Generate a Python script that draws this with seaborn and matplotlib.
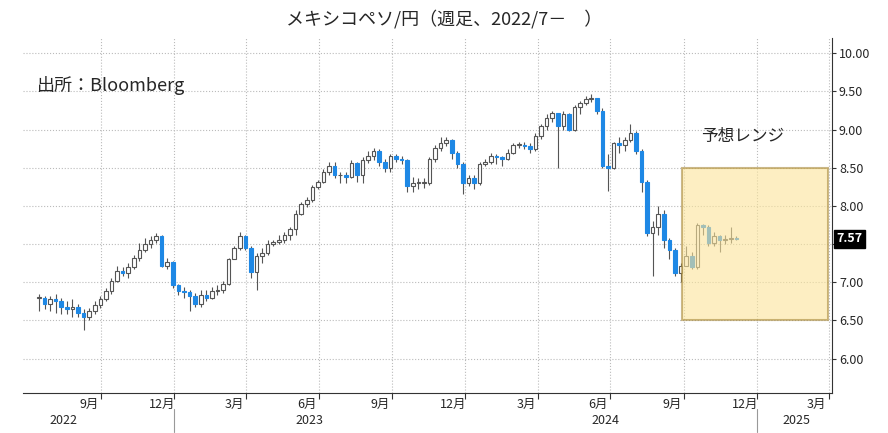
import numpy as np
import pandas as pd
import matplotlib
matplotlib.use("Agg")
import matplotlib.pyplot as plt
import matplotlib.dates as mdates
import seaborn as sns

sns.set_style("whitegrid")
plt.rcParams['font.family'] = ['Noto Sans CJK JP', 'DejaVu Sans']

# weekly MXN/JPY
closes = [6.80, 6.72, 6.78, 6.75, 6.68, 6.65, 6.68, 6.60, 6.55, 6.62,
          6.70, 6.78, 6.88, 7.02, 7.15, 7.12, 7.20, 7.32, 7.42, 7.50,
          7.56, 7.60, 7.22, 7.26, 6.96, 6.88, 6.87, 6.82, 6.72, 6.84,
          6.80, 6.88, 6.90, 6.98, 7.30, 7.45, 7.60, 7.45, 7.13, 7.35,
          7.38, 7.50, 7.53, 7.56, 7.62, 7.70, 7.90, 8.02, 8.08, 8.25,
          8.32, 8.45, 8.52, 8.40, 8.40, 8.38, 8.56, 8.40, 8.60, 8.66,
          8.72, 8.58, 8.50, 8.65, 8.62, 8.60, 8.26, 8.30, 8.30, 8.30,
          8.62, 8.76, 8.82, 8.86, 8.70, 8.55, 8.30, 8.36, 8.30, 8.55,
          8.58, 8.66, 8.64, 8.62, 8.70, 8.80, 8.80, 8.78, 8.75, 8.92,
          9.05, 9.15, 9.22, 9.05, 9.20, 9.00, 9.30, 9.35, 9.40, 9.42,
          9.25, 8.52, 8.50, 8.82, 8.80, 8.86, 8.95, 8.72, 8.32, 7.65,
          7.72, 7.90, 7.55, 7.42, 7.12, 7.22, 7.35, 7.20, 7.75, 7.72,
          7.52, 7.60, 7.55, 7.57, 7.58, 7.57]
highs = [6.85, 6.82, 6.82, 6.85, 6.80, 6.75, 6.78, 6.72, 6.65, 6.66,
         6.75, 6.82, 6.92, 7.06, 7.22, 7.20, 7.25, 7.36, 7.52, 7.58,
         7.60, 7.64, 7.62, 7.32, 7.28, 6.98, 6.94, 6.90, 6.86, 6.90,
         6.90, 6.94, 6.96, 7.02, 7.32, 7.48, 7.66, 7.62, 7.47, 7.38,
         7.45, 7.55, 7.56, 7.62, 7.66, 7.72, 7.95, 8.05, 8.12, 8.28,
         8.34, 8.48, 8.58, 8.58, 8.44, 8.45, 8.60, 8.58, 8.64, 8.72,
         8.76, 8.74, 8.62, 8.68, 8.68, 8.66, 8.62, 8.38, 8.36, 8.36,
         8.64, 8.80, 8.90, 8.90, 8.88, 8.72, 8.58, 8.40, 8.40, 8.58,
         8.62, 8.70, 8.68, 8.66, 8.74, 8.82, 8.84, 8.84, 8.82, 8.96,
         9.08, 9.20, 9.25, 9.22, 9.24, 9.22, 9.32, 9.38, 9.44, 9.46,
         9.42, 9.28, 8.68, 8.84, 8.90, 8.90, 9.08, 8.98, 8.74, 8.34,
         7.80, 8.00, 7.95, 7.58, 7.45, 7.25, 7.48, 7.40, 7.78, 7.76,
         7.75, 7.66, 7.62, 7.62, 7.72, 7.60]
lows = [6.62, 6.65, 6.62, 6.60, 6.58, 6.58, 6.55, 6.55, 6.38, 6.50,
        6.58, 6.66, 6.76, 6.85, 7.00, 7.08, 7.05, 7.18, 7.28, 7.40,
        7.45, 7.52, 7.20, 7.18, 6.92, 6.84, 6.80, 6.62, 6.68, 6.68,
        6.76, 6.78, 6.84, 6.86, 6.96, 7.30, 7.42, 7.42, 7.05, 6.90,
        7.25, 7.36, 7.48, 7.50, 7.52, 7.56, 7.62, 7.88, 7.98, 8.05,
        8.22, 8.30, 8.40, 8.36, 8.30, 8.30, 8.36, 8.32, 8.30, 8.56,
        8.60, 8.52, 8.44, 8.45, 8.58, 8.55, 8.18, 8.18, 8.22, 8.24,
        8.28, 8.58, 8.72, 8.78, 8.62, 8.50, 8.16, 8.26, 8.22, 8.28,
        8.52, 8.55, 8.55, 8.52, 8.60, 8.68, 8.76, 8.74, 8.70, 8.72,
        8.88, 9.00, 9.10, 8.50, 9.00, 8.98, 8.98, 9.20, 9.32, 9.36,
        9.20, 8.50, 8.20, 8.48, 8.70, 8.72, 8.84, 8.68, 8.18, 7.60,
        7.08, 7.62, 7.45, 7.30, 7.08, 7.00, 7.22, 7.18, 7.18, 7.62,
        7.48, 7.48, 7.40, 7.50, 7.52, 7.55]
last_week = "2024-12-06"
range_lo, range_hi = 6.50, 8.50
range_start, range_end = "2024-09-29", "2025-03-31"
yticks = [6.0, 6.5, 7.0, 7.5, 8.0, 8.5, 9.0, 9.5, 10.0]

dates = pd.date_range(end=last_week, periods=len(closes), freq="W-FRI")
df = pd.DataFrame({"date": dates, "close": closes, "high": highs, "low": lows})
df["open"] = df["close"].shift(1).fillna(df["close"])
df["up"] = df["close"] >= df["open"]

fig = plt.figure(figsize=(8.88, 4.33), dpi=100)
ax = fig.add_axes([23/888, 1 - 393/433, 809/888, 355/433])

blue = "#1E88E5"
x = mdates.date2num(df["date"])
wd = 4.5
bottom = np.minimum(df["open"], df["close"])
height = np.maximum(np.abs(df["close"] - df["open"]), 0.008)
ax.vlines(x, df["low"], df["high"], color="#555555", lw=0.8, zorder=2)
ax.bar(x[df["up"]], height[df["up"]], bottom=bottom[df["up"]], width=wd,
       color="white", edgecolor="#555555", lw=0.8, zorder=3)
ax.bar(x[~df["up"]], height[~df["up"]], bottom=bottom[~df["up"]], width=wd,
       color=blue, edgecolor=blue, lw=0.8, zorder=3)

# forecast range box
x0, x1 = mdates.date2num(pd.Timestamp(range_start)), mdates.date2num(pd.Timestamp(range_end))
ax.add_patch(plt.Rectangle((x0, range_lo), x1 - x0, range_hi - range_lo,
                           facecolor="#FCE49A", alpha=0.6, edgecolor="#A8893A",
                           lw=1.5, zorder=4))
ax.text((x0 + x1) / 2 - 15, 8.85, "予想レンジ", fontsize=12, ha="center", zorder=5)
ax.text(mdates.date2num(pd.Timestamp("2022-07-12")), 9.5, "出所：Bloomberg", fontsize=13)

ax.set_xlim(mdates.date2num(pd.Timestamp("2022-06-25")), mdates.date2num(pd.Timestamp("2025-04-05")))
ax.set_ylim(5.55, 10.2)
ax.yaxis.tick_right()
ax.set_yticks(yticks)
ax.set_yticklabels([f"{v:.2f}" if v != 7.5 else "" for v in yticks], fontsize=9)
ax.tick_params(axis="y", length=3, pad=2, right=True, color="#333333")

# grid lines at quarter starts, month labels mid-month
qs = pd.date_range("2022-10-01", "2025-04-01", freq="QS")
ax.set_xticks(mdates.date2num(qs))
ax.set_xticklabels([])
ax.tick_params(axis="x", length=4, bottom=True, color="#333333")
for d in qs:
    m = (d - pd.DateOffset(months=1)).month
    ax.text(mdates.date2num(d - pd.Timedelta(days=15)), -0.015, f"{m}月",
            transform=ax.get_xaxis_transform(), ha="center", va="top", fontsize=9)
for yr, pos in [("2022", "2022-08-15"), ("2023", "2023-06-20"), ("2024", "2024-06-25"), ("2025", "2025-02-20")]:
    ax.text(mdates.date2num(pd.Timestamp(pos)), -0.06, yr, transform=ax.get_xaxis_transform(),
            ha="center", va="top", fontsize=9)
for sep in ["2023-01-01", "2025-01-01"]:
    ax.plot([mdates.date2num(pd.Timestamp(sep))] * 2, [-0.045, -0.11], color="#999999", lw=0.8,
            transform=ax.get_xaxis_transform(), clip_on=False)

ax.grid(True, color="#BBBBBB", ls=":", lw=0.8)
for s in ["top", "left"]:
    ax.spines[s].set_visible(False)
for s in ["right", "bottom"]:
    ax.spines[s].set_color("#333333")

ax.text(1.005, 7.57, "7.57", transform=ax.get_yaxis_transform(), va="center", ha="left",
        fontsize=9, color="white", fontweight="bold",
        bbox=dict(boxstyle="square,pad=0.2", fc="black", ec="black"), zorder=6)

fig.text(0.5, 0.955, "メキシコペソ/円（週足、2022/7－　）", ha="center", va="center", fontsize=13)

fig.savefig("out.png", dpi=100)
